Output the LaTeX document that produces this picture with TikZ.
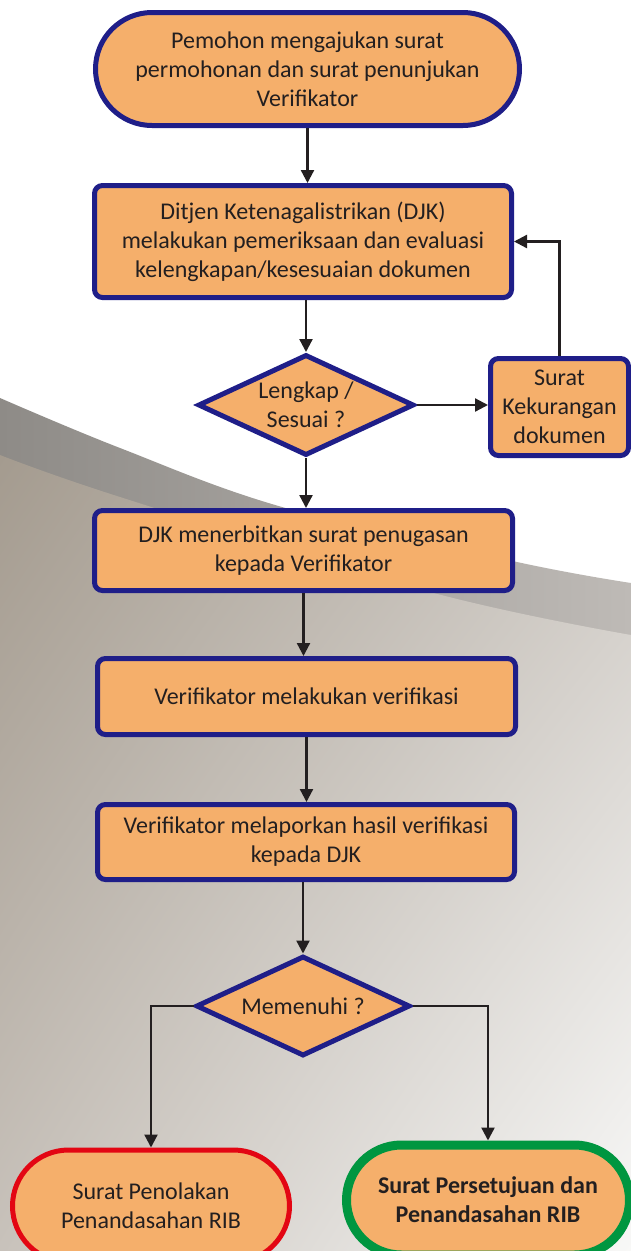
\documentclass[tikz,border=0pt]{standalone}
\usepackage{fontspec}
\setmainfont{Carlito}
\usetikzlibrary{shapes.geometric,shapes.misc,arrows.meta,shadings}
\definecolor{fillor}{RGB}{245,175,107}
\definecolor{navy}{RGB}{31,30,136}
\definecolor{txt}{RGB}{35,31,32}
\definecolor{redb}{RGB}{227,6,19}
\definecolor{greenb}{RGB}{0,150,64}
\definecolor{bandL}{RGB}{142,139,135}
\definecolor{bandR}{RGB}{190,186,182}
\definecolor{lowUL}{RGB}{164,155,143}
\definecolor{lowUR}{RGB}{205,200,194}
\definecolor{lowLL}{RGB}{200,194,187}
\definecolor{lowLR}{RGB}{248,248,247}
\tikzset{
  base/.style={fill=fillor, text=txt, align=center, inner sep=0pt,
    font=\fontsize{24}{29}\selectfont},
  proc/.style={base, draw=navy, line width=5pt, rectangle, rounded corners=8pt},
  term/.style={base, line width=5pt, rounded rectangle},
  dec/.style={base, draw=navy, line width=5pt, diamond, aspect=2},
  conn/.style={draw=txt, line width=2.3pt, -{Triangle[length=13pt,width=13pt]}}
}
\begin{document}
\begin{tikzpicture}[x=1pt,y=-1pt]
\useasboundingbox (0,0) rectangle (631,1251);
% background
\fill[white] (0,0) rectangle (631,1251);
\shade[left color=bandL, right color=bandR]
  plot[smooth, tension=0.6] coordinates {(0,398) (120,448) (282,507) (517,562) (631,583)}
  -- (631,1251) -- (0,1251) -- cycle;
\shade[upper left=lowUL, upper right=lowUR, lower left=lowLL, lower right=lowLR]
  plot[smooth, tension=0.6] coordinates {(0,455) (120,497) (430,592) (631,635)}
  -- (631,1251) -- (0,1251) -- cycle;
% nodes
\node[term, draw=navy, minimum width=424pt, minimum height=113pt] (start) at (307.5,69)
  {Pemohon mengajukan surat\\permohonan dan surat penunjukan\\Verifikator};
\node[proc, minimum width=417pt, minimum height=112pt] (djk) at (303,241.5)
  {Ditjen Ketenagalistrikan (DJK)\\melakukan pemeriksaan dan evaluasi\\kelengkapan/kesesuaian dokumen};
\node[dec, minimum width=216pt, minimum height=101pt] (cek) at (306,405)
  {Lengkap /\\Sesuai ?};
\node[proc, minimum width=138pt, minimum height=97pt] (kurang) at (559.5,407)
  {Surat\\Kekurangan\\dokumen};
\node[proc, minimum width=418pt, minimum height=80pt] (tugas) at (303.5,550.5)
  {DJK menerbitkan surat penugasan\\kepada Verifikator};
\node[proc, minimum width=418pt, minimum height=76pt] (verif) at (306.5,696.5)
  {Verifikator melakukan verifikasi};
\node[proc, minimum width=417pt, minimum height=75pt] (lapor) at (306,842)
  {Verifikator melaporkan hasil verifikasi\\kepada DJK};
\node[dec, minimum width=214pt, minimum height=100pt] (penuhi) at (303,1006)
  {Memenuhi ?};
\node[term, draw=redb, minimum width=277pt, minimum height=112pt] (tolak) at (151,1206)
  {Surat Penolakan\\Penandasahan RIB};
\node[term, draw=greenb, line width=9pt, minimum width=283pt, minimum height=110pt,
  font=\fontsize{24}{29}\selectfont\bfseries] (setuju) at (488,1200)
  {Surat Persetujuan dan\\Penandasahan RIB};
% connectors
\draw[conn] (start.south) -- (start.south |- djk.north);
\draw[conn] (djk.south -| cek.north) -- (cek.north);
\draw[conn] (cek.east) -- (kurang.west |- cek.east);
\draw[conn] (kurang.north) |- (djk.east);
\draw[conn] (cek.south) -- (cek.south |- tugas.north);
\draw[conn] (tugas.south) -- (tugas.south |- verif.north);
\draw[conn] (verif.south) -- (verif.south |- lapor.north);
\draw[conn] (lapor.south -| penuhi.north) -- (penuhi.north);
\draw[conn] (penuhi.west) -| (tolak.north);
\draw[conn] (penuhi.east) -| (setuju.north);
\end{tikzpicture}
\end{document}
